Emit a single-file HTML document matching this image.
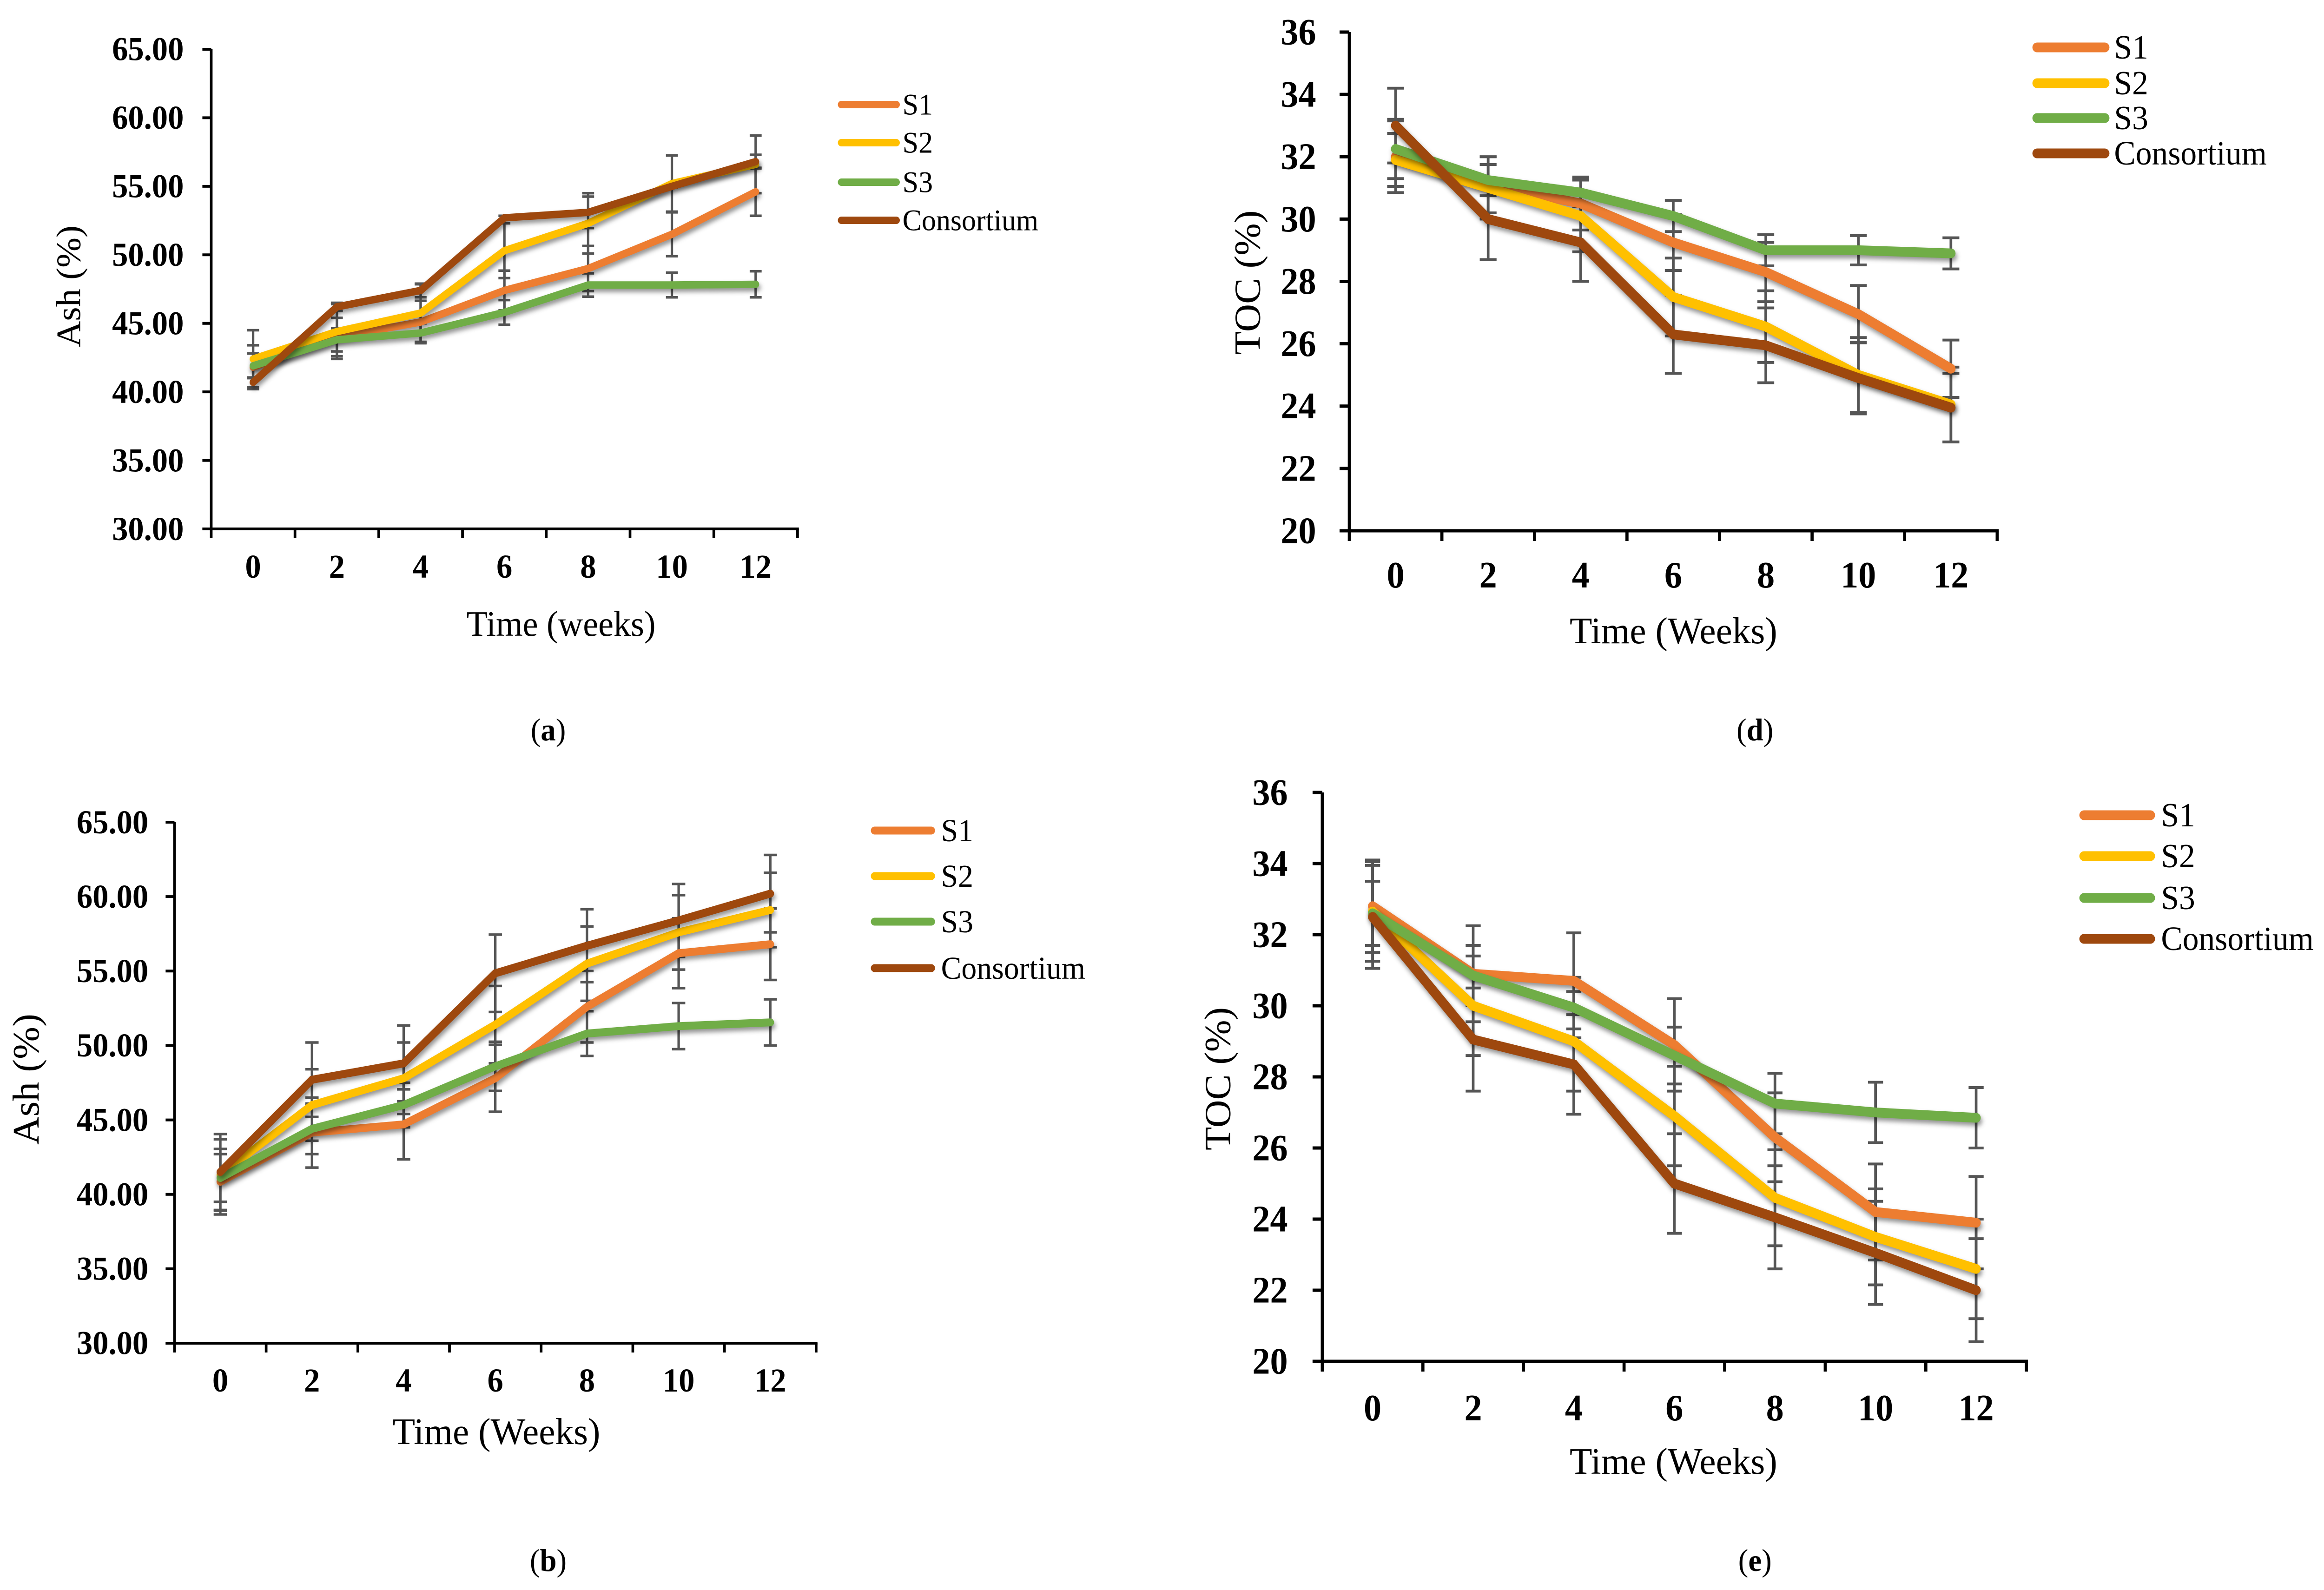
<!DOCTYPE html>
<html lang="en">
<head>
<meta charset="utf-8">
<title>Ash and TOC over time</title>
<style>
html,body{margin:0;padding:0;background:#fff;width:100%;height:100%;overflow:hidden}
svg{display:block;position:absolute;left:0;top:0;width:100%;height:100%}
text{font-family:"Liberation Serif","Times New Roman",serif;fill:#000}
</style>
</head>
<body>
<svg id="figure" xmlns="http://www.w3.org/2000/svg" viewBox="0 0 5248 3421" preserveAspectRatio="none">
<rect x="0" y="0" width="5248" height="3421" fill="#ffffff"/>
</svg>
<script>
const weeks = ['0','2','4','6','8','10','12'];
const ashTicks = ['30.00','35.00','40.00','45.00','50.00','55.00','60.00','65.00'];
const tocTicks = ['20','22','24','26','28','30','32','34','36'];
const seriesNames = ['S1','S2','S3','Consortium'];

const aS1 = [41.8,44.0,45.1,47.4,49.0,51.5,54.6];
const aS2 = [42.4,44.4,45.75,50.3,52.3,55.2,56.6];
const aS3 = [41.9,43.8,44.3,45.8,47.8,47.8,47.85];
const aCons = [40.7,46.2,47.4,52.7,53.1,55.0,56.8];
const aS1Err = [1.6,1.4,1.55,1.45,1.65,1.6,1.75];
const aS2Err = [2.1,2.0,2.1,2.0,2.2,2.05,2.1];
const aS3Err = [0.9,0.85,0.7,0.9,0.85,0.9,0.95];
const aConsErr = [0.35,0.3,0.5,0.15,1.15,0.1,0.5];

const bS1 = [40.85,44.15,44.7,47.8,52.6,56.2,56.8];
const bS2 = [41.3,46.0,47.8,51.4,55.5,57.6,59.1];
const bS3 = [41.1,44.4,46.0,48.6,50.8,51.3,51.55];
const bCons = [41.5,47.7,48.8,54.85,56.7,58.4,60.2];
const bS1Err = [2.2,2.35,2.35,2.25,2.4,2.35,2.4];
const bS2Err = [2.4,2.4,2.4,2.6,2.5,2.5,2.5];
const bS3Err = [1.6,1.7,1.5,1.65,1.5,1.55,1.55];
const bConsErr = [2.55,2.5,2.55,2.6,2.45,2.45,2.6];

const dS1 = [32.0,31.1,30.5,29.25,28.3,26.95,25.2];
const dS2 = [31.9,31.0,30.1,27.5,26.55,25.0,24.05];
const dS3 = [32.25,31.25,30.85,30.1,29.0,29.0,28.9];
const dCons = [33.0,30.0,29.25,26.3,25.95,24.9,23.95];
const dS1Err = [1.15,0.9,0.85,0.9,0.95,0.92,0.92];
const dS2Err = [0.85,1.0,1.15,1.25,1.15,1.2,1.2];
const dS3Err = [0.95,0.5,0.45,0.5,0.5,0.47,0.5];
const dConsErr = [1.2,1.3,1.25,1.25,1.2,1.15,1.1];

const eS1 = [32.8,30.9,30.7,28.9,26.3,24.2,23.9];
const eS2 = [32.65,30.0,29.0,26.9,24.6,23.5,22.6];
const eS3 = [32.6,30.85,29.95,28.6,27.25,27.0,26.85];
const eCons = [32.5,29.05,28.35,25.0,24.05,23.05,22.0];
const eS1Err = [1.3,1.35,1.35,1.3,1.25,1.35,1.3];
const eS2Err = [1.4,1.4,1.4,1.4,1.35,1.35,1.4];
const eS3Err = [0.9,0.85,0.85,0.8,0.85,0.85,0.85];
const eConsErr = [1.45,1.45,1.4,1.4,1.45,1.45,1.45];

const seriesColors = ['#ED7D31','#FFC000','#70AD47','#9E480E'];
const NS = 'http://www.w3.org/2000/svg';
const figure = document.getElementById('figure');

function make(tag, parent, attrs) {
  const el = document.createElementNS(NS, tag);
  for (const k in attrs) el.setAttribute(k, attrs[k]);
  parent.appendChild(el);
  return el;
}

function drawPanel(p) {
  const g = make('g', figure, {});
  
  

  const nums = p.ticks.map(Number);
  const yMin = Math.min.apply(null, nums);
  const yMax = Math.max.apply(null, nums);
  const xAt = function (i) { return p.left + (i + 0.5) * (p.right - p.left) / weeks.length; };
  const yAt = function (v) { return p.bottom - (v - yMin) / (yMax - yMin) * (p.bottom - p.top); };

  // error bars
  p.values.forEach(function (vals, s) {
    const eg = make('g', g, {stroke: '#555555', 'stroke-width': p.errW, fill: 'none'});
    
    
    vals.forEach(function (v, i) {
      const x = xAt(i), hi = yAt(v + p.errors[s][i]), lo = yAt(v - p.errors[s][i]);
      make('line', eg, {x1: x, x2: x, y1: hi, y2: lo});
      make('line', eg, {x1: x - p.cap, x2: x + p.cap, y1: hi, y2: hi});
      make('line', eg, {x1: x - p.cap, x2: x + p.cap, y1: lo, y2: lo});
    });
  });

  // series lines
  p.values.forEach(function (vals, s) {
    const pts = vals.map(function (v, i) { return xAt(i).toFixed(1) + ',' + yAt(v).toFixed(1); }).join(' ');
    const line = make('polyline', g, {points: pts, fill: 'none', stroke: seriesColors[s], 'stroke-width': p.lineW, 'stroke-linecap': 'round', 'stroke-linejoin': 'miter', style: 'filter:drop-shadow(3px 7px 5px rgba(0,0,0,.42))'});
    
    
  });

  // axes
  const yAxis = make('line', g, {x1: p.left, x2: p.left, y1: p.top, y2: p.bottom, stroke: '#000', 'stroke-width': p.axisW});
  
  
  const xAxis = make('line', g, {x1: p.left - p.tickLen, x2: p.right + p.axisW / 2, y1: p.bottom, y2: p.bottom, stroke: '#000', 'stroke-width': p.axisW});
  
  

  // y ticks
  p.ticks.forEach(function (t) {
    const y = yAt(Number(t));
    const mark = make('line', g, {x1: p.left - p.tickLen, x2: p.left, y1: y, y2: y, stroke: '#000', 'stroke-width': p.axisW});
    
    
    const label = make('text', g, {x: p.tickRight, y: y + p.tickFont * 0.33, 'text-anchor': 'end', 'font-size': p.tickFont, 'font-weight': 'bold'});
    label.textContent = t;
    
    
  });

  // x ticks
  for (let i = 0; i <= weeks.length; i++) {
    const x = p.left + i * (p.right - p.left) / weeks.length;
    const mark = make('line', g, {x1: x, x2: x, y1: p.bottom, y2: p.bottom + p.tickLen, stroke: '#000', 'stroke-width': p.axisW});
    
    
  }
  weeks.forEach(function (w, i) {
    const label = make('text', g, {x: xAt(i), y: p.xLabelY, 'text-anchor': 'middle', 'font-size': p.tickFont, 'font-weight': 'bold'});
    label.textContent = w;
    
    
  });

  // axis titles
  const xTitle = make('text', g, {x: p.xTitleX, y: p.xTitleY, 'text-anchor': 'middle', 'font-size': p.xTitleFont, textLength: p.xTitleLen, lengthAdjust: 'spacingAndGlyphs'});
  xTitle.textContent = p.xTitle;
  
  
  const yTitle = make('text', g, {x: p.yTitleX, y: p.yTitleY, 'text-anchor': 'middle', 'font-size': p.yTitleFont, textLength: p.yTitleLen, lengthAdjust: 'spacingAndGlyphs', transform: 'rotate(-90 ' + p.yTitleX + ' ' + p.yTitleY + ')'});
  yTitle.textContent = p.yTitle;
  
  

  // legend
  const legend = make('g', g, {});
  
  
  seriesNames.forEach(function (name, s) {
    const entry = make('g', legend, {});
    
    
    make('line', entry, {x1: p.legX1, x2: p.legX2, y1: p.legY[s], y2: p.legY[s], stroke: seriesColors[s], 'stroke-width': p.lineW, 'stroke-linecap': 'round'});
    const label = make('text', entry, {x: p.legTextX, y: p.legY[s] + p.legFont * 0.33, 'font-size': p.legFont});
    label.textContent = name;
  });

  // caption
  const cap = make('text', g, {x: p.capX, y: p.capY, 'text-anchor': 'middle', 'font-size': 68});
  
  
  const t1 = make('tspan', cap, {}); t1.textContent = '(';
  const t2 = make('tspan', cap, {'font-weight': 'bold'}); t2.textContent = p.id;
  const t3 = make('tspan', cap, {}); t3.textContent = ')';
}

drawPanel({
  id: 'a', ticks: ashTicks, left: 477, right: 1801, top: 106, bottom: 1138,
  values: [aS1, aS2, aS3, aCons], errors: [aS1Err, aS2Err, aS3Err, aConsErr],
  lineW: 16, errW: 5.5, cap: 13.5, axisW: 6, tickLen: 20,
  tickRight: 415, tickFont: 72, xLabelY: 1243,
  xTitle: 'Time (weeks)', xTitleX: 1267, xTitleY: 1368, xTitleFont: 77, xTitleLen: 427,
  yTitle: 'Ash (%)', yTitleX: 181, yTitleY: 616, yTitleFont: 78, yTitleLen: 262,
  legX1: 1900, legX2: 2024, legY: [225, 307, 392, 474], legTextX: 2038, legFont: 65,
  capX: 1238, capY: 1593
});
drawPanel({
  id: 'd', ticks: tocTicks, left: 3047, right: 4510, top: 69, bottom: 1142,
  values: [dS1, dS2, dS3, dCons], errors: [dS1Err, dS2Err, dS3Err, dConsErr],
  lineW: 21, errW: 6, cap: 19, axisW: 7, tickLen: 22,
  tickRight: 2972, tickFont: 80, xLabelY: 1264,
  xTitle: 'Time (Weeks)', xTitleX: 3779, xTitleY: 1384, xTitleFont: 81, xTitleLen: 469,
  yTitle: 'TOC (%)', yTitleX: 2845, yTitleY: 608, yTitleFont: 83, yTitleLen: 311,
  legX1: 4600, legX2: 4753, legY: [102, 179, 254, 330], legTextX: 4774, legFont: 73,
  capX: 3963, capY: 1593
});
drawPanel({
  id: 'b', ticks: ashTicks, left: 394, right: 1843, top: 1769, bottom: 2890,
  values: [bS1, bS2, bS3, bCons], errors: [bS1Err, bS2Err, bS3Err, bConsErr],
  lineW: 17, errW: 5.5, cap: 15, axisW: 6, tickLen: 20,
  tickRight: 335, tickFont: 72, xLabelY: 2994,
  xTitle: 'Time (Weeks)', xTitleX: 1121, xTitleY: 3107, xTitleFont: 81, xTitleLen: 469,
  yTitle: 'Ash (%)', yTitleX: 87, yTitleY: 2322, yTitleFont: 84, yTitleLen: 282,
  legX1: 1975, legX2: 2103, legY: [1787, 1885, 1983, 2083], legTextX: 2125, legFont: 69,
  capX: 1238, capY: 3380
});
drawPanel({
  id: 'e', ticks: tocTicks, left: 2986, right: 4576, top: 1705, bottom: 2929,
  values: [eS1, eS2, eS3, eCons], errors: [eS1Err, eS2Err, eS3Err, eConsErr],
  lineW: 21, errW: 6, cap: 17, axisW: 7, tickLen: 22,
  tickRight: 2908, tickFont: 80, xLabelY: 3056,
  xTitle: 'Time (Weeks)', xTitleX: 3779, xTitleY: 3171, xTitleFont: 81, xTitleLen: 469,
  yTitle: 'TOC (%)', yTitleX: 2778, yTitleY: 2321, yTitleFont: 83, yTitleLen: 308,
  legX1: 4706, legX2: 4856, legY: [1754, 1842, 1932, 2020], legTextX: 4880, legFont: 73,
  capX: 3963, capY: 3380
});
</script>
</body>
</html>
